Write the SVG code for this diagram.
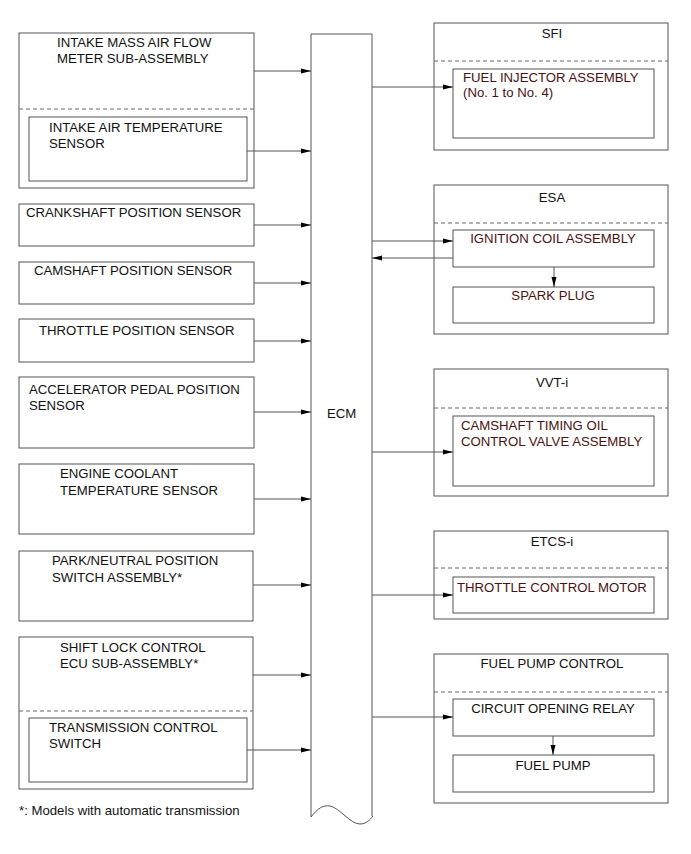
<svg xmlns="http://www.w3.org/2000/svg" width="691" height="854" viewBox="0 0 691 854">
<style>
.bx{fill:#fff;stroke:#555;stroke-width:1}
.dash{stroke:#666;stroke-width:1;stroke-dasharray:4,3;fill:none}
.t{font-family:"Liberation Sans",Arial,sans-serif;font-size:13.2px;fill:#111}
.r{fill:#4a1212}
.c{text-anchor:middle}
.ln{stroke:#555;stroke-width:1;fill:none}
</style>
<defs>
<marker id="ah" markerWidth="10" markerHeight="8" refX="10" refY="4" orient="auto" markerUnits="userSpaceOnUse">
<path d="M0,1.5 L10,4 L0,6.5 Z" fill="#000"/>
</marker>
</defs>
<rect width="691" height="854" fill="#fff"/>

<g id="ecm">
<path class="ln" d="M311,817 L311,34 L372,34 L372,816" stroke="#888"/>
<path class="ln" d="M311,817 C318,808 323,805 330,806 C340,808 350,824 360,824 C366,824 370,820 373,816"/>
<text class="t" x="327" y="418">ECM</text>
</g>

<g id="maf">
<rect class="bx" x="19" y="33" width="235" height="155"/>
<text class="t" x="57" y="47">INTAKE MASS AIR FLOW</text>
<text class="t" x="57" y="63">METER SUB-ASSEMBLY</text>
<line class="dash" x1="19" y1="109" x2="254" y2="109"/>
</g>
<g id="iat">
<rect class="bx" x="29" y="117" width="218" height="64"/>
<text class="t" x="49" y="132">INTAKE AIR TEMPERATURE</text>
<text class="t" x="49" y="148">SENSOR</text>
</g>
<g id="ckp">
<rect class="bx" x="19" y="204" width="235" height="42"/>
<text class="t" x="26" y="217">CRANKSHAFT POSITION SENSOR</text>
</g>
<g id="cmp">
<rect class="bx" x="19" y="262" width="235" height="42"/>
<text class="t" x="34" y="275">CAMSHAFT POSITION SENSOR</text>
</g>
<g id="tps">
<rect class="bx" x="19" y="319" width="235" height="43"/>
<text class="t" x="39" y="335">THROTTLE POSITION SENSOR</text>
</g>
<g id="app">
<rect class="bx" x="19" y="377" width="235" height="71"/>
<text class="t" x="29" y="394">ACCELERATOR PEDAL POSITION</text>
<text class="t" x="29" y="410">SENSOR</text>
</g>
<g id="ect">
<rect class="bx" x="19" y="464" width="235" height="70"/>
<text class="t" x="60" y="478">ENGINE COOLANT</text>
<text class="t" x="60" y="495">TEMPERATURE SENSOR</text>
</g>
<g id="pnp">
<rect class="bx" x="19" y="551" width="234" height="70"/>
<text class="t" x="52" y="565">PARK/NEUTRAL POSITION</text>
<text class="t" x="52" y="582">SWITCH ASSEMBLY*</text>
</g>
<g id="slc">
<rect class="bx" x="19" y="637" width="234" height="152"/>
<text class="t" x="60" y="652">SHIFT LOCK CONTROL</text>
<text class="t" x="60" y="668">ECU SUB-ASSEMBLY*</text>
<line class="dash" x1="19" y1="711" x2="253" y2="711"/>
</g>
<g id="tcs">
<rect class="bx" x="29" y="718" width="218" height="64"/>
<text class="t" x="49" y="732">TRANSMISSION CONTROL</text>
<text class="t" x="49" y="748">SWITCH</text>
</g>
<text class="t" x="19" y="815">*: Models with automatic transmission</text>

<g id="sfi">
<rect class="bx" x="434" y="23" width="234" height="127"/>
<text class="t c" x="552" y="38">SFI</text>
<line class="dash" x1="434" y1="61" x2="668" y2="61"/>
</g>
<g id="inj">
<rect class="bx" x="453" y="69" width="201" height="69"/>
<text class="t r" x="463" y="82">FUEL INJECTOR ASSEMBLY</text>
<text class="t r" x="463" y="97">(No. 1 to No. 4)</text>
</g>
<g id="esa">
<rect class="bx" x="434" y="185" width="234" height="149"/>
<text class="t c" x="552" y="202">ESA</text>
<line class="dash" x1="434" y1="223" x2="668" y2="223"/>
</g>
<g id="coil">
<rect class="bx" x="453" y="230" width="201" height="37"/>
<text class="t r c" x="553" y="243">IGNITION COIL ASSEMBLY</text>
</g>
<g id="spark">
<rect class="bx" x="453" y="287" width="201" height="36"/>
<text class="t r c" x="553" y="300">SPARK PLUG</text>
</g>
<g id="vvt">
<rect class="bx" x="434" y="369" width="234" height="127"/>
<text class="t c" x="552" y="387">VVT-i</text>
<line class="dash" x1="434" y1="408" x2="668" y2="408"/>
</g>
<g id="ocv">
<rect class="bx" x="453" y="416" width="201" height="70"/>
<text class="t r" x="461" y="430">CAMSHAFT TIMING OIL</text>
<text class="t r" x="461" y="446">CONTROL VALVE ASSEMBLY</text>
</g>
<g id="etcs">
<rect class="bx" x="434" y="531" width="234" height="88"/>
<text class="t c" x="552" y="546">ETCS-i</text>
<line class="dash" x1="434" y1="568" x2="668" y2="568"/>
</g>
<g id="tcm">
<rect class="bx" x="453" y="577" width="201" height="36"/>
<text class="t r" x="457" y="592">THROTTLE CONTROL MOTOR</text>
</g>
<g id="fpc">
<rect class="bx" x="434" y="654" width="234" height="149"/>
<text class="t c" x="552" y="668">FUEL PUMP CONTROL</text>
<line class="dash" x1="434" y1="692" x2="668" y2="692"/>
</g>
<g id="cor">
<rect class="bx" x="453" y="699" width="201" height="37"/>
<text class="t c" x="553" y="713">CIRCUIT OPENING RELAY</text>
</g>
<g id="fp">
<rect class="bx" x="453" y="755" width="201" height="37"/>
<text class="t c" x="553" y="770">FUEL PUMP</text>
</g>

<g id="connectors" class="ln" marker-end="url(#ah)">
<line x1="254" y1="71" x2="311" y2="71"/>
<line x1="247" y1="151" x2="311" y2="151"/>
<line x1="254" y1="225" x2="311" y2="225"/>
<line x1="254" y1="283" x2="311" y2="283"/>
<line x1="254" y1="341" x2="311" y2="341"/>
<line x1="254" y1="412" x2="311" y2="412"/>
<line x1="254" y1="499" x2="311" y2="499"/>
<line x1="253" y1="585" x2="311" y2="585"/>
<line x1="253" y1="675" x2="311" y2="675"/>
<line x1="247" y1="750" x2="311" y2="750"/>
<line x1="372" y1="87" x2="453" y2="87"/>
<line x1="372" y1="241" x2="453" y2="241"/>
<line x1="453" y1="258" x2="372" y2="258"/>
<line x1="554" y1="267" x2="554" y2="287"/>
<line x1="372" y1="452" x2="453" y2="452"/>
<line x1="372" y1="595" x2="453" y2="595"/>
<line x1="372" y1="717" x2="453" y2="717"/>
<line x1="553" y1="736" x2="553" y2="755"/>
</g>
</svg>
